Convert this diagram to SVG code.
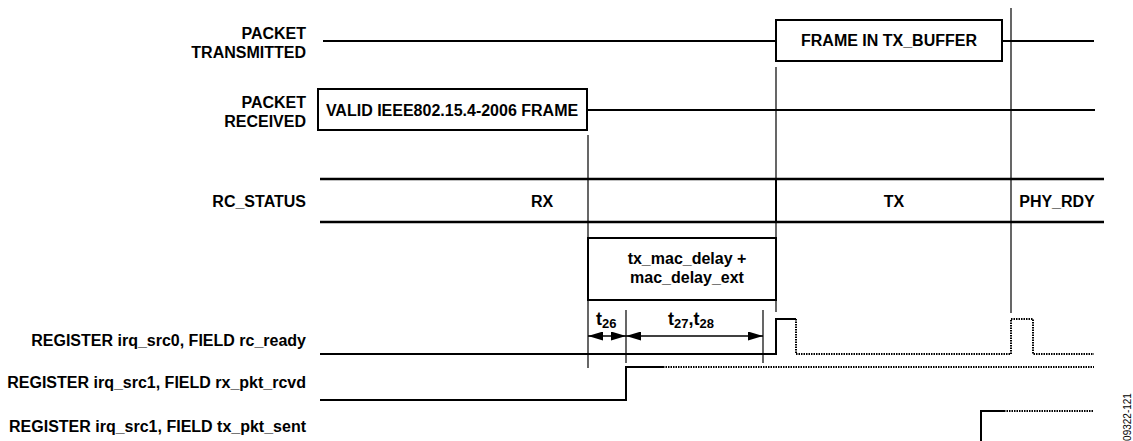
<svg xmlns="http://www.w3.org/2000/svg" width="1133" height="441" viewBox="0 0 1133 441">
<style>
  text { font-family: "Liberation Sans", Arial, sans-serif; font-weight: bold; font-size: 16px; fill: #000; }
  .lbl { text-anchor: end; }
  .mid { text-anchor: middle; }
  .tm { font-size: 18px; }
  .sub { font-size: 13px; }
  .sig { fill: none; stroke: #000; stroke-width: 2; }
  .rc { fill: none; stroke: #000; stroke-width: 2.5; }
  .box { fill: #fff; stroke: #000; stroke-width: 2; }
  .dot { fill: none; stroke: #000; stroke-width: 2; stroke-dasharray: 1.5 1; }
  .vl { fill: none; stroke: #000; stroke-width: 1.2; }
  .dim { fill: none; stroke: #000; stroke-width: 1.5; marker-start: url(#ah); marker-end: url(#ah); }
  .code { font-weight: normal; font-size: 10px; }
</style>
<defs>
  <marker id="ah" markerUnits="userSpaceOnUse" markerWidth="15" markerHeight="9" refX="15" refY="4.5" orient="auto-start-reverse">
    <path d="M0,0 L15,4.5 L0,9 z" fill="#000"/>
  </marker>
</defs>
<rect width="1133" height="441" fill="#fff"/>

<g id="packet-transmitted">
  <text class="lbl" x="306" y="39">PACKET</text>
  <text class="lbl" x="306" y="58">TRANSMITTED</text>
  <path class="sig" d="M323,41 H776 M1002,41 H1094"/>
  <rect class="box" x="776" y="20" width="226" height="41"/>
  <text class="mid" x="889" y="46">FRAME IN TX_BUFFER</text>
</g>

<g id="packet-received">
  <text class="lbl" x="306" y="108">PACKET</text>
  <text class="lbl" x="306" y="127">RECEIVED</text>
  <path class="sig" d="M587,110 H1095"/>
  <rect class="box" x="318" y="89" width="269" height="41"/>
  <text class="mid" x="452" y="116">VALID IEEE802.15.4-2006 FRAME</text>
</g>

<g id="rc-status">
  <text class="lbl" x="306" y="207">RC_STATUS</text>
  <path class="rc" d="M320,179 H1104 M320,222 H1104"/>
  <path d="M776,179 V222" stroke="#000" stroke-width="2"/>
  <text class="mid" x="542" y="207">RX</text>
  <text class="mid" x="894" y="207">TX</text>
  <text class="mid" x="1057" y="207">PHY_RDY</text>
</g>

<g id="mac-delay">
  <rect class="box" x="588" y="238" width="188" height="62"/>
  <text class="mid" x="687" y="264">tx_mac_delay +</text>
  <text class="mid" x="687" y="283">mac_delay_ext</text>
</g>

<g id="rc-ready">
  <text class="lbl" x="306" y="346">REGISTER irq_src0, FIELD rc_ready</text>
  <path class="sig" d="M320,354 H776 V319 H796"/>
  <path class="dot" d="M796,319 V354 H1011 V319 H1033 V354 H1094"/>
</g>

<g id="rx-pkt-rcvd">
  <text class="lbl" x="306" y="388">REGISTER irq_src1, FIELD rx_pkt_rcvd</text>
  <path class="sig" d="M320,400 H626 V367 H663"/>
  <path class="dot" d="M663,367 H1094"/>
</g>

<g id="tx-pkt-sent">
  <text class="lbl" x="306" y="432">REGISTER irq_src1, FIELD tx_pkt_sent</text>
  <path class="sig" d="M981,441 V411 H1004"/>
  <path class="dot" d="M1004,411 H1094"/>
</g>

<g id="connectors">
  <path class="vl" d="M588,135 V368"/>
  <path class="vl" d="M776,67 V312"/>
  <path class="vl" d="M1011,8 V313"/>
  <path class="vl" d="M626,310 V363"/>
  <path class="vl" d="M763,310 V363"/>
  <path class="dim" d="M588,336 H626"/>
  <path class="dim" d="M626,336 H763"/>
  <text class="tm" x="596" y="325">t<tspan class="sub" dy="3">26</tspan></text>
  <text class="mid tm" x="691" y="325">t<tspan class="sub" dy="3">27</tspan><tspan dy="-3">,t</tspan><tspan class="sub" dy="3">28</tspan></text>
</g>

<text class="code" transform="translate(1131,417) rotate(-90)" text-anchor="middle">09322-121</text>
</svg>
